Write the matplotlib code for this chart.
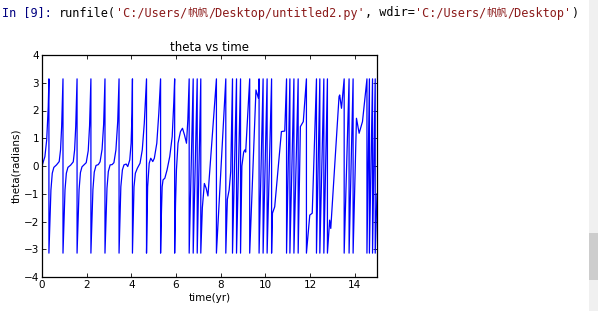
import matplotlib
matplotlib.use("Agg")
import matplotlib.pyplot as plt

# theta(t); wraps are a pi / -pi pair at the same time
time_yr = [
    0.00, 0.13, 0.21, 0.28, 0.31, 0.31,
    0.36, 0.40, 0.46, 0.53, 0.65, 0.77, 0.83, 0.88, 0.94, 0.94,
    0.99, 1.03, 1.09, 1.16, 1.28, 1.40, 1.46, 1.51, 1.57, 1.57,
    1.62, 1.66, 1.72, 1.79, 1.88, 1.98, 2.07, 2.13, 2.19, 2.19,
    2.24, 2.28, 2.34, 2.42, 2.52, 2.60, 2.69, 2.76, 2.82, 2.82,
    2.87, 2.91, 2.97, 3.05, 3.14, 3.22, 3.31, 3.39, 3.45, 3.45,
    3.50, 3.53, 3.60, 3.67, 3.77, 3.84, 3.93, 3.99, 4.03, 4.05, 4.05,
    4.09, 4.12, 4.18, 4.27, 4.39, 4.49, 4.58, 4.68, 4.68,
    4.71, 4.73, 4.80, 4.87, 4.96, 5.03, 5.14, 5.23, 5.31, 5.31,
    5.35, 5.38, 5.42, 5.50, 5.60, 5.72, 5.83, 5.90, 5.94, 5.94,
    5.98, 6.02, 6.09, 6.20, 6.29, 6.38, 6.47, 6.53, 6.59, 6.59,
    6.77, 6.77, 6.95, 6.95, 7.11, 7.11,
    7.18, 7.27, 7.35, 7.43, 7.60, 7.81, 7.81,
    8.23, 8.23,
    8.30, 8.38, 8.45, 8.53, 8.53,
    8.71, 8.71, 8.89, 8.89,
    8.95, 9.03, 9.08, 9.12, 9.30, 9.30,
    9.58, 9.69, 9.72, 9.72,
    9.90, 9.90, 10.08, 10.08, 10.28, 10.28,
    10.32, 10.42, 10.72, 10.87, 10.95, 10.95,
    11.10, 11.10, 11.28, 11.28, 11.47, 11.47,
    11.57, 11.70, 11.84, 11.84,
    11.99, 12.10, 12.29, 12.29,
    12.44, 12.44, 12.62, 12.62, 12.78, 12.78,
    12.88, 12.93, 13.30, 13.33, 13.41, 13.53, 13.53,
    13.75, 13.75, 13.93, 13.93,
    14.08, 14.20, 14.35, 14.55, 14.55,
    14.66, 14.66, 14.80, 14.80, 14.92, 14.92, 15.00,
]
theta_rad = [
    0.00, 0.34, 0.94, 2.14, 3.14, -3.14,
    -1.83, -0.86, -0.26, -0.05, 0.04, 0.16, 0.58, 1.42, 3.14, -3.14,
    -1.83, -0.86, -0.26, -0.05, 0.03, 0.15, 0.58, 1.42, 3.14, -3.14,
    -1.83, -0.86, -0.24, -0.03, 0.04, 0.12, 0.55, 1.45, 3.14, -3.14,
    -1.80, -0.85, -0.22, 0.02, 0.05, 0.15, 0.60, 1.50, 3.14, -3.14,
    -1.80, -0.80, -0.20, 0.04, 0.05, 0.12, 0.58, 1.60, 3.14, -3.14,
    -1.70, -0.75, -0.14, 0.04, 0.07, -0.02, 0.22, 0.82, 1.90, 3.14, -3.14,
    -1.70, -0.75, -0.26, -0.08, 0.10, 0.58, 1.54, 3.14, -3.14,
    -1.70, -0.75, 0.10, 0.28, 0.16, 0.28, 0.82, 1.90, 3.14, -3.14,
    -1.60, -0.75, -0.50, -0.44, -0.14, 0.34, 1.06, 2.27, 3.14, -3.14,
    -1.33, -0.14, 0.82, 1.24, 1.36, 1.12, 0.82, 1.66, 3.14, -3.14,
    3.14, -3.14, 3.14, -3.14, 3.14, -3.14,
    -1.50, -0.63, -0.80, -1.08, 0.80, 3.14, -3.14,
    3.14, -3.14,
    -1.20, -0.86, -0.20, 3.14, -3.14,
    3.14, -3.14, 3.14, -3.14,
    0.00, 0.50, 0.58, 0.50, 3.14, -3.14,
    2.74, 2.44, 3.14, -3.14,
    3.14, -3.14, 3.14, -3.14, 3.14, -3.14,
    -1.70, -1.47, 1.24, 1.26, 3.14, -3.14,
    3.14, -3.14, 3.14, -3.14, 3.14, -3.14,
    1.42, 1.60, 3.14, -3.14,
    -1.77, -1.70, 3.14, -3.14,
    3.14, -3.14, 3.14, -3.14, 3.14, -3.14,
    -1.95, -2.25, 2.50, 2.56, 2.08, 3.14, -3.14,
    3.14, -3.14, 3.14, -3.14,
    1.72, 1.18, 1.60, 3.14, -3.14,
    3.14, -3.14, 3.14, -3.14, 3.14, -3.14, -1.00,
]

# console echo line: (text, colour)
console_parts = [
    ("In [9]: ", "#000080"),
    ("runfile(", "#000000"),
    ("'C:/Users/", "#8b1a1a"),
    ("帆帆", "#8b1a1a"),
    ("/Desktop/untitled2.py'", "#8b1a1a"),
    (", wdir=", "#000000"),
    ("'C:/Users/", "#8b1a1a"),
    ("帆帆", "#8b1a1a"),
    ("/Desktop'", "#8b1a1a"),
    (")", "#000000"),
]

fig = plt.figure(figsize=(5.98, 3.11), dpi=100)
fig.patch.set_facecolor("white")

ax = fig.add_axes([42 / 598, 34 / 311, 335 / 598, 222 / 311])
ax.plot(time_yr, theta_rad, color="b", linewidth=0.9)
ax.set_xlim(0, 15)
ax.set_ylim(-4, 4)
ax.set_xticks([0, 2, 4, 6, 8, 10, 12, 14])
ax.set_yticks([-4, -3, -2, -1, 0, 1, 2, 3, 4])
ax.set_yticklabels(["\u22124", "\u22123", "\u22122", "\u22121", "0", "1", "2", "3", "4"])
ax.tick_params(direction="in", top=True, right=True, length=3, width=0.6,
               labelsize=7.5, pad=2)
for s in ax.spines.values():
    s.set_linewidth(0.9)
ax.set_title("theta vs time", fontsize=8.5, pad=3)
ax.set_xlabel("time(yr)", fontsize=7.5, labelpad=2)
ax.set_ylabel("theta(radians)", fontsize=7.5, labelpad=2)

# console line above the figure, drawn piece by piece
fig.canvas.draw()
renderer = fig.canvas.get_renderer()
x = 2 / 598
for text, col in console_parts:
    is_cjk = any(ord(c) > 0x2000 for c in text)
    t = fig.text(x, 1 - 13 / 311, text, color=col, va="center",
                 fontsize=7.6 if is_cjk else 8.5,
                 family=["Noto Sans CJK SC"] if is_cjk else ["DejaVu Sans Mono"])
    bb = t.get_window_extent(renderer)
    x += bb.width / fig.bbox.width

# scrollbar on the right edge
fig.patches.append(plt.Rectangle((589 / 598, 0), 9 / 598, 1, transform=fig.transFigure,
                                 facecolor="#f0f0f0", edgecolor="none"))
fig.patches.append(plt.Rectangle((589 / 598, 1 - 280 / 311), 9 / 598, 47 / 311,
                                 transform=fig.transFigure, facecolor="#cdcdcd",
                                 edgecolor="none"))

fig.savefig("out.png", dpi=100)
